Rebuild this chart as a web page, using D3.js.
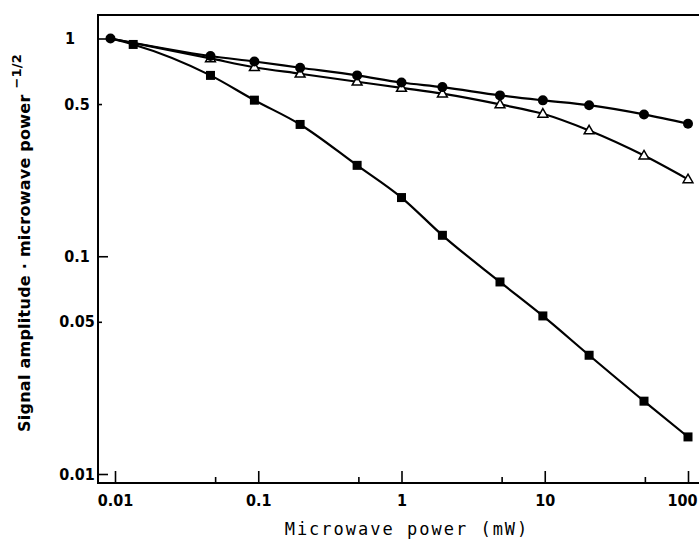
<!DOCTYPE html>
<html><head><meta charset="utf-8">
<script src="https://cdn.jsdelivr.net/npm/d3@7"></script>
<style>body{margin:0;background:#fff} svg{display:block}</style>
</head><body>
<script>
// Microwave power (mW)
const powers = [0.0093, 0.0134, 0.0464, 0.094, 0.196, 0.49, 1.0, 1.93, 4.87, 9.7, 20.4, 49.3, 100];
// Signal amplitude · microwave power^-1/2 (normalised); null = no point measured
const circleValues   = [1.0, null, 0.831, 0.784, 0.734, 0.677, 0.628, 0.598, 0.548, 0.520, 0.494, 0.448, 0.406];
const triangleValues = [1.0, null, 0.810, 0.738, 0.689, 0.633, 0.593, 0.558, 0.498, 0.451, 0.378, 0.290, 0.2255];
const squareValues   = [1.0, 0.939, 0.677, 0.521, 0.403, 0.2615, 0.186, 0.1248, 0.0762, 0.0532, 0.0351, 0.0216, 0.0148];

const xTickValues = [0.01, 0.05, 0.1, 0.5, 1, 5, 10, 50, 100];
const xTickLabels = ["0.01", "", "0.1", "", "1", "", "10", "", "100"];
const xMajor = [0.01, 0.1, 1, 10, 100];
const yTickValues = [1, 0.5, 0.1, 0.05, 0.01];
const yTickLabels = ["1", "0.5", "0.1", "0.05", "0.01"];
const yMajor = [1, 0.1, 0.01];

const W = 699, H = 542;
const svg = d3.select("body").append("svg").attr("width", W).attr("height", H)
  .style("background", "#fff");

const x = d3.scaleLog().domain([0.01, 100]).range([115, 688]);
const y = d3.scaleLog().domain([0.01, 1]).range([474, 38.5]);

const frameL = 98, frameT = 15, frameB = 483, frameR = 699;

// frame
svg.append("path")
  .attr("d", `M${frameR},${frameT}H${frameL}V${frameB}H${frameR}`)
  .attr("fill", "none").attr("stroke", "#000").attr("stroke-width", 2);

const tickFont = "'DejaVu Sans Condensed', 'DejaVu Sans', sans-serif";

// x axis
const xAxis = d3.axisBottom(x).tickValues(xTickValues)
  .tickSizeInner(-12).tickSizeOuter(0).tickPadding(12)
  .tickFormat((d, i) => xTickLabels[i]);
const gx = svg.append("g").attr("transform", `translate(0,${frameB})`).call(xAxis);
gx.select(".domain").remove();
gx.selectAll(".tick line").attr("stroke", "#000").attr("stroke-width", 1.6)
  .attr("y2", d => xMajor.includes(d) ? -12 : -6);
gx.selectAll(".tick text").attr("fill", "#000")
  .style("font-family", tickFont).style("font-size", "16px").style("font-weight", "bold");
gx.selectAll(".tick text").filter(d => d === 100).attr("dx", -6);

// y axis
const yAxis = d3.axisLeft(y).tickValues(yTickValues)
  .tickSizeInner(-10).tickSizeOuter(0).tickPadding(9)
  .tickFormat((d, i) => yTickLabels[i]);
const gy = svg.append("g").attr("transform", `translate(${frameL},0)`).call(yAxis);
gy.select(".domain").remove();
gy.selectAll(".tick line").attr("stroke", "#000").attr("stroke-width", 1.6)
  .attr("x2", d => yMajor.includes(d) ? 10 : 4);
gy.selectAll(".tick text").attr("fill", "#000").attr("text-anchor", "middle")
  .attr("x", d => d === 1 ? -28 : -21)
  .style("font-family", tickFont).style("font-size", "16px").style("font-weight", "bold");

// lines
const line = d3.line().defined(d => d[1] != null)
  .x(d => x(d[0])).y(d => y(d[1])).curve(d3.curveMonotoneX);
const series = [
  {name: "circle", values: circleValues},
  {name: "triangle", values: triangleValues},
  {name: "square", values: squareValues}
];
series.forEach(s => {
  const pts = powers.map((p, i) => [p, s.values[i]]).filter(d => d[1] != null);
  svg.append("path").datum(pts).attr("d", line)
    .attr("fill", "none").attr("stroke", "#000").attr("stroke-width", 2.2);
});

// markers
const sqPts = powers.map((p, i) => [p, squareValues[i]]).filter(d => d[1] != null);
svg.selectAll(".sq").data(sqPts.slice(1)).join("rect").attr("class", "sq")
  .attr("x", d => x(d[0]) - 4.5).attr("y", d => y(d[1]) - 4.5)
  .attr("width", 9).attr("height", 9).attr("fill", "#000");

const triPts = powers.map((p, i) => [p, triangleValues[i]]).filter(d => d[1] != null);
const tri = d3.symbol().type(d3.symbolTriangle).size(42);
svg.selectAll(".tri").data(triPts.slice(1)).join("path").attr("class", "tri")
  .attr("d", tri).attr("transform", d => `translate(${x(d[0])},${y(d[1]) + 0.5})`)
  .attr("fill", "#fff").attr("stroke", "#000").attr("stroke-width", 1.5);

const cPts = powers.map((p, i) => [p, circleValues[i]]).filter(d => d[1] != null);
svg.selectAll(".ci").data(cPts).join("circle").attr("class", "ci")
  .attr("cx", d => x(d[0])).attr("cy", d => y(d[1])).attr("r", 5).attr("fill", "#000");

// axis titles
svg.append("text").attr("x", 407).attr("y", 535).attr("text-anchor", "middle")
  .style("font-family", "'DejaVu Sans Mono', monospace").style("font-size", "17px")
  .style("letter-spacing", "2px").attr("fill", "#000")
  .text("Microwave power (mW)");

const yt = svg.append("text").attr("transform", "translate(30,432) rotate(-90)")
  .attr("text-anchor", "start")
  .style("font-family", "'DejaVu Sans', sans-serif").style("font-size", "16px")
  .style("font-weight", "bold").style("letter-spacing", "0.25px").attr("fill", "#000");
yt.append("tspan").text("Signal amplitude \u00b7 microwave power ");
yt.append("tspan").attr("dy", -9).style("font-size", "13px").text("\u22121/2");
</script>
</body></html>
